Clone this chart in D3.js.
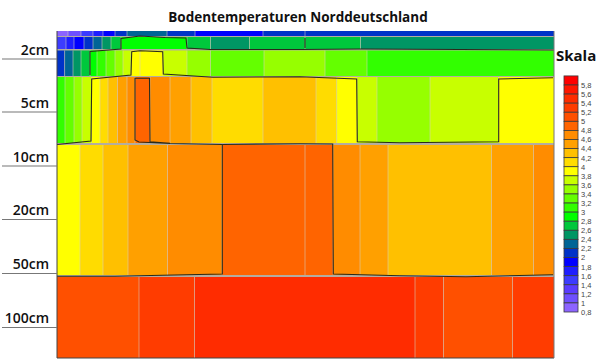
<!DOCTYPE html>
<html>
<head>
<meta charset="utf-8">
<script src="https://cdn.jsdelivr.net/npm/d3@7"></script>
<style>
  html, body { margin: 0; padding: 0; background: #fff; }
  svg { display: block; }
</style>
</head>
<body>
<svg id="chart" width="600" height="361"></svg>
<script>
const title = 'Bodentemperaturen Norddeutschland';
const depthLabels = ['2cm', '5cm', '10cm', '20cm', '50cm', '100cm'];
const depthTicks = [27.5, 80.5, 134.5, 188, 242, 296];

// temperature classes, lower bound of each legend box
const tempLevels = [5.8, 5.6, 5.4, 5.2, 5, 4.8, 4.6, 4.4, 4.2, 4, 3.8, 3.6, 3.4, 3.2, 3, 2.8, 2.6, 2.4, 2.2, 2, 1.8, 1.6, 1.4, 1.2, 1, 0.8];
const tempColors = ['#ff0000', '#ff1600', '#ff2c00', '#ff3c00', '#ff5000', '#ff6400', '#ff8c00', '#ffa000', '#ffc000', '#ffdc00',
    '#ffff00', '#c8ff00', '#96ff00', '#64ff00', '#32ff00', '#00ff00', '#00c83c', '#009664', '#006496', '#0032c8',
    '#0000ff', '#1e1eff', '#3c3cff', '#5a3cff', '#6e50ff', '#8c64ff'];

// soil layers: top and bottom on the depth axis
const layerTops = [0, 6, 19.5, 46, 114, 246];
const layerBottoms = [5, 18, 45, 112, 244, 327];

// cell edges along the transect and the temperature of each cell, per layer
const edges0 = [0, 11, 24, 36, 46, 58, 70, 110, 138, 206, 248, 497];
const temps0 = [0.9, 1.1, 1.5, 1.7, 1.9, 2.1, 2.3, 2.1, 1.9, 2.1, 2.1];
const edges1 = [0, 9, 17, 27, 36, 45, 54, 64, 130, 153.5, 192.5, 248, 303.5, 497];
const temps1 = [1.5, 1.7, 1.9, 2.1, 2.3, 2.5, 2.7, 2.9, 2.7, 2.5, 2.7, 2.7, 2.5];
const edges2 = [0, 7.6, 16, 24, 33, 40, 49, 58, 66, 74, 83, 106, 130, 153.5, 207, 268, 310, 497];
const temps2 = [2.1, 2.3, 2.5, 2.7, 2.9, 3.1, 3.3, 3.5, 3.7, 3.9, 3.9, 3.7, 3.5, 3.3, 3.5, 3.3, 3.1];
const edges3 = [0, 8, 17, 25, 34.5, 43, 51, 60.5, 70, 78, 93, 113, 134, 155, 206, 259, 279.7, 300, 320, 373, 441.5, 497];
const temps3 = [3.1, 3.3, 3.5, 3.7, 3.9, 4.1, 4.3, 4.5, 4.7, 4.9, 4.7, 4.5, 4.3, 4.1, 4.3, 4.1, 3.9, 3.7, 3.5, 3.7, 3.9];
const edges4 = [0, 23, 46, 71, 110.5, 165, 248, 276, 303, 331, 434.5, 476.5, 497];
const temps4 = [3.9, 4.1, 4.3, 4.5, 4.7, 4.9, 4.9, 4.7, 4.5, 4.3, 4.5, 4.7];
const edges5 = [0, 82, 137.5, 358, 386.5, 455.5, 497];
const temps5 = [5.1, 5.3, 5.5, 5.3, 5.1, 5.3];

// isolines as [transect, depth]
const isoCold = [[33, 44], [33, 20.5], [64, 18], [64, 7.5], [83, 5], [108, 6.5], [129, 7], [130, 17], [153, 18.5], [243, 18.5], [303, 18], [497, 19]];
const isoColdTick = [[248, 7], [248, 17]];
const isoMid = [[0, 113.5], [34, 110], [34.7, 48], [74, 44], [74.7, 20.7], [83, 19.7], [105.7, 20.7], [106.3, 43], [156, 46.3], [243, 45.7], [299.7, 48], [300.3, 110.7], [343, 111.7], [441.7, 110.7], [441.7, 48], [496, 46.7]];
const isoWarmLeft = [[0, 245.3], [58, 245.3], [165.3, 243], [165.3, 113.5], [113, 112.5], [82, 111], [78, 109], [78, 47.3], [92.5, 47.3], [93, 110.7], [113, 112.3]];
const isoWarmRight = [[165.3, 113.5], [243, 112.7], [275.7, 113], [276.3, 243], [343, 244.7], [409, 245.7], [496, 243.7]];

const layers = [
    {edges: edges0, temps: temps0}, {edges: edges1, temps: temps1}, {edges: edges2, temps: temps2},
    {edges: edges3, temps: temps3}, {edges: edges4, temps: temps4}, {edges: edges5, temps: temps5}
];

const svg = d3.select('#chart');
const labelFont = '"Open Sans", sans-serif';

const x = d3.scaleLinear().domain([0, 497]).range([57, 554]);
const y = d3.scaleLinear().domain([0, 327]).range([31, 358]);

const color = d3.scaleThreshold()
    .domain(tempLevels.slice().reverse())
    .range(['#8c64ff'].concat(tempColors.slice().reverse()));

svg.append('text')
    .attr('x', 298)
    .attr('y', 22)
    .attr('text-anchor', 'middle')
    .attr('font-family', labelFont)
    .attr('font-weight', 700)
    .attr('font-size', 13.5)
    .attr('fill', '#111')
    .text(title);

// grey shows through in the gaps between layers
svg.append('rect')
    .attr('x', x(0)).attr('y', y(0))
    .attr('width', x(497) - x(0)).attr('height', y(327) - y(0))
    .attr('fill', '#b4ada0');

layers.forEach((layer, i) => {
    const g = svg.append('g').attr('class', 'layer');
    g.selectAll('rect')
        .data(layer.temps)
        .enter()
        .append('rect')
        .attr('x', (d, j) => x(layer.edges[j]))
        .attr('y', y(layerTops[i]))
        .attr('width', (d, j) => x(layer.edges[j + 1]) - x(layer.edges[j]))
        .attr('height', y(layerBottoms[i]) - y(layerTops[i]))
        .attr('fill', d => color(d));
    // thin pale seams between neighbouring cells
    g.selectAll('line')
        .data(layer.edges.slice(1, -1))
        .enter()
        .append('line')
        .attr('x1', d => x(d)).attr('x2', d => x(d))
        .attr('y1', y(layerTops[i])).attr('y2', y(layerBottoms[i]))
        .attr('stroke', '#d8d0c0')
        .attr('stroke-opacity', 0.55)
        .attr('stroke-width', 1);
});

const line = d3.line().x(d => x(d[0])).y(d => y(d[1]));

svg.append('g')
    .selectAll('path')
    .data([isoCold, isoColdTick, isoMid, isoWarmLeft, isoWarmRight])
    .enter()
    .append('path')
    .attr('d', line)
    .attr('fill', 'none')
    .attr('stroke', '#2a2a1a')
    .attr('stroke-width', 1.1);

// frame
svg.append('path')
    .attr('d', `M${x(0)},${y(0)}V${y(327)}H${x(497)}`)
    .attr('fill', 'none')
    .attr('stroke', '#444')
    .attr('stroke-width', 1);
svg.append('line')
    .attr('x1', x(497)).attr('x2', x(497))
    .attr('y1', y(0)).attr('y2', y(327))
    .attr('stroke', '#777');

// depth axis, the labels sit on top of the tick lines
const depthScale = d3.scaleOrdinal().domain(depthLabels).range(depthTicks.map(d => y(d)));
const depthAxis = d3.axisLeft(depthScale).tickSize(55).tickSizeOuter(0);
const axisG = svg.append('g')
    .attr('transform', `translate(${x(0)},0)`)
    .call(depthAxis);
axisG.select('.domain').remove();
axisG.selectAll('line').attr('stroke', '#777').attr('stroke-width', 1.2);
axisG.selectAll('text')
    .attr('x', -8)
    .attr('dy', '-0.3em')
    .attr('font-family', labelFont)
    .attr('font-weight', 600)
    .attr('font-size', 14)
    .attr('fill', '#111');

// legend
svg.append('text')
    .attr('x', 556)
    .attr('y', 61)
    .attr('font-family', labelFont)
    .attr('font-weight', 700)
    .attr('font-size', 15)
    .attr('fill', '#111')
    .text('Skala');

const legendY = d3.scaleLinear().domain([5.8, 0.8]).range([85, 312]);
const boxH = legendY(5.6) - legendY(5.8);

svg.append('g')
    .selectAll('rect')
    .data(tempLevels)
    .enter()
    .append('rect')
    .attr('x', 564)
    .attr('y', d => legendY(d) - boxH)
    .attr('width', 14)
    .attr('height', boxH)
    .attr('fill', (d, i) => tempColors[i])
    .attr('stroke', '#3a3a3a')
    .attr('stroke-width', 0.8);

const legendAxis = d3.axisRight(legendY)
    .tickValues(tempLevels)
    .tickSize(0)
    .tickPadding(3)
    .tickFormat(d => String(d).replace('.', ','));
const legendG = svg.append('g')
    .attr('transform', 'translate(578,0)')
    .call(legendAxis);
legendG.select('.domain').remove();
legendG.selectAll('text')
    .attr('font-family', '"Liberation Sans", Arial, sans-serif')
    .attr('font-size', 7.5)
    .attr('fill', '#444');
</script>
</body>
</html>
